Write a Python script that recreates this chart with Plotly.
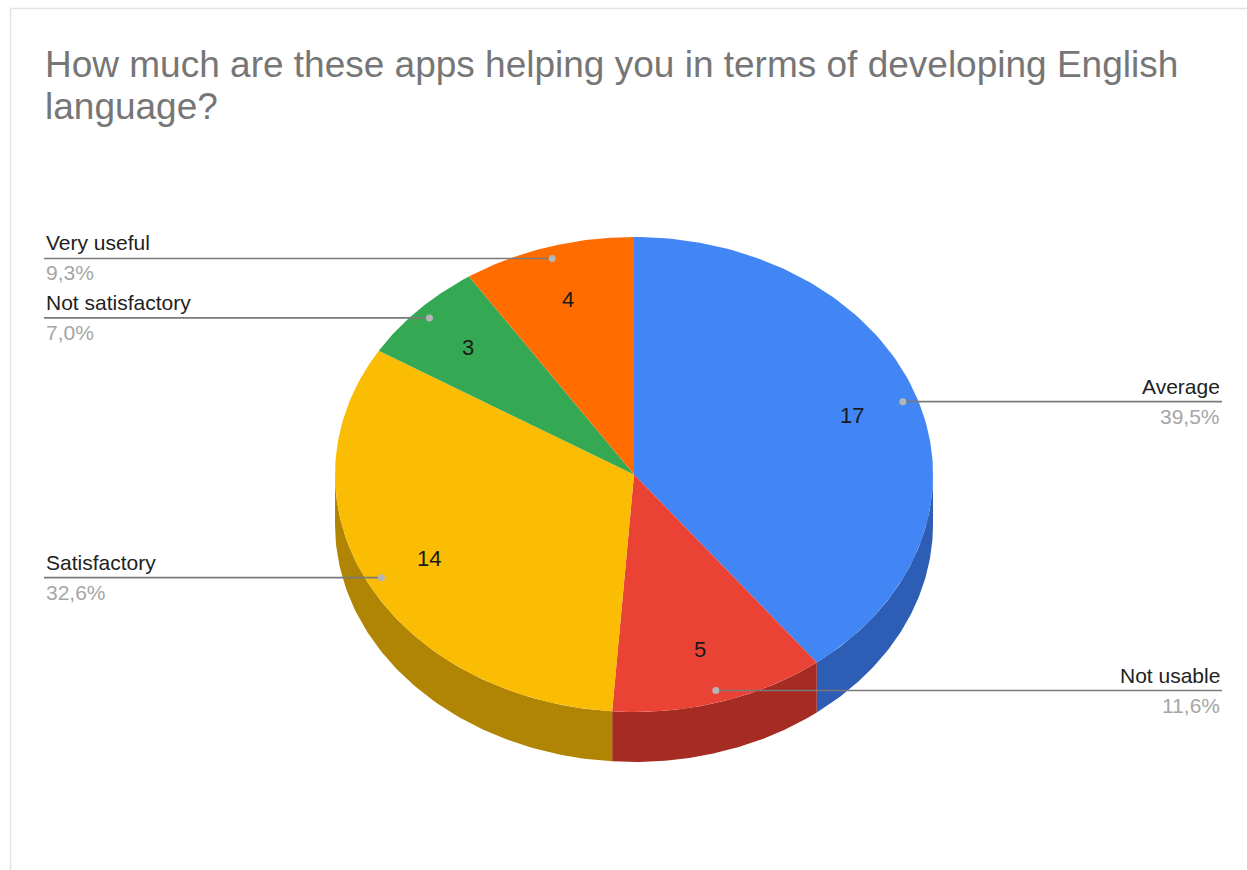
import numpy as np
import plotly.graph_objects as go

# ---- data ----
categories = ["Average", "Not usable", "Satisfactory", "Not satisfactory", "Very useful"]
values = [17, 5, 14, 3, 4]
top_colors = ["#4285F4", "#EA4335", "#FBBC04", "#34A853", "#FF6D01"]
side_colors = ["#2D5DB4", "#A52B23", "#B08504", "#247A3B", "#B34C01"]
title_lines = ["How much are these apps helping you in terms of developing English", "language?"]

# ---- layout constants (pixel space) ----
W, H = 1247, 870
CX, CY = 634, 474.5
RX, RY = 299, 237.5
DEPTH = 50
LEFT_X, RIGHT_X = 44, 1222
FONT = "Liberation Sans, Arial, sans-serif"

total = sum(values)
fracs = [v / total for v in values]
starts = np.cumsum([0] + fracs[:-1]) * 360
ends = np.cumsum(fracs) * 360


def pt(theta_deg, k=1.0, dy=0.0):
    t = np.radians(theta_deg)
    return CX + k * RX * np.sin(t), CY - k * RY * np.cos(t) + dy


fig = go.Figure()

# side faces (front half only: 90..270 deg)
for i in range(len(values)):
    a0, a1 = max(starts[i], 90), min(ends[i], 270)
    if a1 <= a0:
        continue
    th = np.linspace(a0, a1, 80)
    xt, yt = pt(th)
    xb, yb = pt(th[::-1], dy=DEPTH)
    fig.add_trace(go.Scatter(x=np.concatenate([xt, xb, xt[:1]]), y=np.concatenate([yt, yb, yt[:1]]),
                             mode="lines", fill="toself", fillcolor=side_colors[i],
                             line=dict(width=0), hoverinfo="skip", showlegend=False))

# top faces
for i in range(len(values)):
    th = np.linspace(starts[i], ends[i], 120)
    xs, ys = pt(th)
    fig.add_trace(go.Scatter(x=np.concatenate([[CX], xs, [CX]]), y=np.concatenate([[CY], ys, [CY]]),
                             mode="lines", fill="toself", fillcolor=top_colors[i],
                             line=dict(width=0), hoverinfo="skip", showlegend=False))

annotations = []
# leader lines, dots, labels
for i in range(len(values)):
    mid = (starts[i] + ends[i]) / 2
    dx, dy = pt(mid, k=0.95)
    right = mid < 180
    ex = RIGHT_X if right else LEFT_X
    fig.add_trace(go.Scatter(x=[dx, ex], y=[dy, dy], mode="lines",
                             line=dict(color="#7a7a7a", width=1.6), hoverinfo="skip", showlegend=False))
    fig.add_trace(go.Scatter(x=[dx], y=[dy], mode="markers",
                             marker=dict(color="#b5b5b5", size=7), hoverinfo="skip", showlegend=False))
    anc = "right" if right else "left"
    annotations.append(dict(x=ex, y=dy - 2, xref="x", yref="y", text=categories[i], showarrow=False,
                            xanchor=anc, yanchor="bottom", font=dict(family=FONT, size=21, color="#222222")))
    annotations.append(dict(x=ex, y=dy + 1, xref="x", yref="y",
                            text=f"{100 * fracs[i]:.1f}%".replace(".", ","), showarrow=False,
                            xanchor=anc, yanchor="top", font=dict(family=FONT, size=21, color="#a6a6a6")))
    # value label inside
    lx, ly = pt(mid, k=0.77)
    annotations.append(dict(x=lx, y=ly, xref="x", yref="y", text=str(values[i]), showarrow=False,
                            xanchor="center", yanchor="middle", font=dict(family=FONT, size=22, color="#1a1a1a")))

# title as two lines
for j, line in enumerate(title_lines):
    annotations.append(dict(x=43, y=78 + 42 * j, xref="x", yref="y", text=line, showarrow=False,
                            xanchor="left", yanchor="bottom", yshift=-9,
                            font=dict(family=FONT, size=37, color="#767676")))

fig.update_layout(
    width=W, height=H, margin=dict(l=0, r=0, t=0, b=0),
    paper_bgcolor="white", plot_bgcolor="white",
    xaxis=dict(range=[0, W], visible=False, fixedrange=True),
    yaxis=dict(range=[H, 0], visible=False, fixedrange=True),
    annotations=annotations,
    shapes=[
        dict(type="line", xref="x", yref="y", x0=10.5, x1=W, y0=8.5, y1=8.5, line=dict(color="#e2e2e2", width=1.5)),
        dict(type="line", xref="x", yref="y", x0=10.5, x1=10.5, y0=8.5, y1=H, line=dict(color="#e2e2e2", width=1.5)),
    ],
)

fig.write_html("out.html")
